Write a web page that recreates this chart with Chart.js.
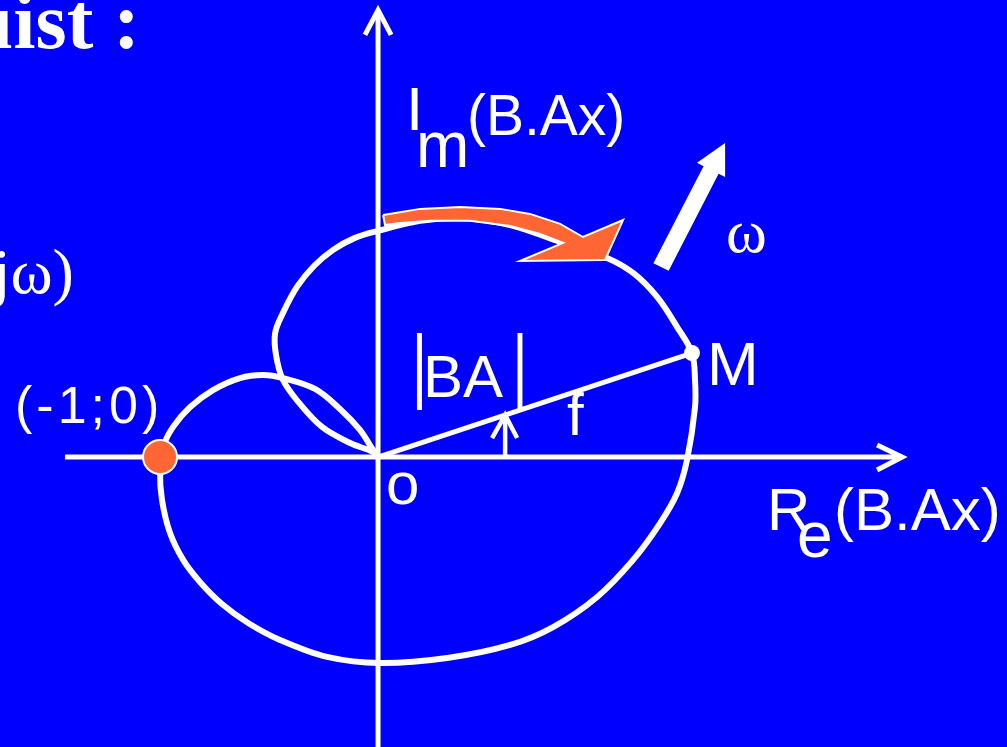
<!DOCTYPE html>
<html>
<head>
<meta charset="utf-8">
<script src="https://cdn.jsdelivr.net/npm/chart.js@4.4.0/dist/chart.umd.min.js"></script>
<style>
html, body { margin: 0; padding: 0; background: #0000ff; overflow: hidden; }
#wrap { width: 1007px; height: 747px; }
</style>
</head>
<body>
<div id="wrap"><canvas id="nyquist" width="1007" height="747"></canvas></div>
<script>
'use strict';

// Nyquist locus of B.A(jw) (unit: the critical point sits at Re = -1)
const locusRe = [0, -0.023, -0.128, -0.257, -0.362, -0.436, -0.468, -0.472, -0.436, -0.372,
    -0.294, -0.206, -0.106, 0, 0.193, 0.376, 0.606, 0.835, 1.050, 1.170,
    1.280, 1.372, 1.440, 1.454, 1.454, 1.417, 1.372, 1.294, 1.170, 1.005,
    0.803, 0.606, 0.317, 0.009, -0.234, -0.450, -0.596, -0.716, -0.817, -0.894,
    -0.954, -0.991, -1.000, -0.986, -0.940, -0.862, -0.757, -0.633, -0.528, -0.436,
    -0.289, -0.170, -0.083, -0.023, 0];
const locusIm = [0, 0.023, 0.064, 0.138, 0.248, 0.353, 0.468, 0.569, 0.661, 0.780,
    0.876, 0.950, 1.005, 1.037, 1.083, 1.096, 1.064, 0.986, 0.913, 0.844,
    0.734, 0.596, 0.477, 0.353, 0.229, -0.014, -0.165, -0.303, -0.472, -0.642,
    -0.780, -0.862, -0.922, -0.945, -0.917, -0.839, -0.761, -0.674, -0.573, -0.472,
    -0.349, -0.197, -0.060, 0.046, 0.138, 0.229, 0.307, 0.362, 0.376, 0.362,
    0.312, 0.216, 0.124, 0.032, 0];

// visible extent of the plane
const reRange = [-1.734, 2.885];
const imRange = [-1.330, 2.096];

// axes and their arrow heads
const reAxisRe = [-1.436, 2.404];
const reAxisIm = [0, 0];
const reHeadRe = [2.289, 2.404, 2.289];
const reHeadIm = [0.055, 0, -0.060];
const imAxisRe = [0, 0];
const imAxisIm = [-1.40, 2.050];
const imHeadRe = [-0.060, 0, 0.060];
const imHeadIm = [1.936, 2.050, 1.936];

// point M on the locus, vector |BA| from O, critical point
const pointM = [1.440, 0.477];
const vectorRe = [0, 1.440];
const vectorIm = [0, 0.477];
const criticalPoint = [-1, 0];

// small arrow pointing at the phase angle
const phiStemRe = [0.583, 0.583];
const phiStemIm = [0, 0.193];
const phiHeadRe = [0.523, 0.583, 0.638];
const phiHeadIm = [0.087, 0.193, 0.087];

// bars of |BA|
const barLeftRe = [0.190, 0.190];
const barRightRe = [0.651, 0.651];
const barIm = [0.569, 0.216];

// orange arrow following the locus
const sweepRe = [0.023, 0.193, 0.376, 0.560, 0.697, 0.835, 0.940, 1.124, 1.041, 0.651,
    0.849, 0.743, 0.606, 0.422, 0.239, 0.101, 0.032, 0.023];
const sweepIm = [1.110, 1.138, 1.147, 1.138, 1.115, 1.069, 1.009, 1.087, 0.904, 0.899,
    0.982, 1.023, 1.060, 1.083, 1.083, 1.073, 1.064, 1.110];

// white arrow for increasing omega
const omegaRe = [1.263, 1.493, 1.463, 1.592, 1.592, 1.562, 1.333, 1.263];
const omegaIm = [0.889, 1.334, 1.349, 1.440, 1.284, 1.299, 0.854, 0.889];

const WHITE = '#ffffff';
const ORANGE = '#ff6633';
const BLUE = '#0000ff';

const SANS = '"Liberation Sans", Arial, sans-serif';
const SERIF = '"Liberation Serif", "Times New Roman", serif';

// text on the slide, anchored in plane units
const labels = [
    {text: 'uist :', re: -1.092, im: 1.876, font: 'bold 80px ' + SERIF, align: 'right'},
    {text: 'j\u03c9)', re: -1.395, im: 0.752, font: '64px ' + SERIF, align: 'right'},
    {text: '(-1;0)', re: -1.665, im: 0.156, font: '52px ' + SANS, spacing: '4px'},
    {text: 'I', re: 0.128, im: 1.500, font: '62px ' + SANS},
    {text: 'm', re: 0.174, im: 1.330, font: '64px ' + SANS},
    {text: '(B.Ax)', re: 0.408, im: 1.477, font: '57px ' + SANS},
    {text: '\u03c9', re: 1.596, im: 0.940, font: '62px ' + SERIF},
    {text: 'BA', re: 0.206, im: 0.275, font: '60px ' + SANS},
    {text: 'M', re: 1.509, im: 0.330, font: '62px ' + SANS},
    {text: 'f', re: 0.867, im: 0.101, font: '60px ' + SANS},
    {text: 'o', re: 0.037, im: -0.216, font: '60px ' + SANS},
    {text: 'R', re: 1.784, im: -0.335, font: '60px ' + SANS},
    {text: 'e', re: 1.922, im: -0.459, font: '64px ' + SANS},
    {text: '(B.Ax)', re: 2.092, im: -0.335, font: '60px ' + SANS}
];

function pts(re, im) {
    return re.map((v, i) => ({x: v, y: im[i]}));
}

function stroke(re, im, width, order, extra) {
    return Object.assign({
        data: pts(re, im),
        showLine: true,
        borderColor: WHITE,
        borderWidth: width,
        pointRadius: 0,
        tension: 0,
        fill: false,
        order: order
    }, extra || {});
}

const backdrop = {
    id: 'backdrop',
    beforeDraw(chart) {
        const ctx = chart.ctx;
        ctx.save();
        ctx.fillStyle = BLUE;
        ctx.fillRect(0, 0, chart.width, chart.height);
        ctx.restore();
    }
};

const slideText = {
    id: 'slideText',
    afterDatasetsDraw(chart) {
        const ctx = chart.ctx;
        const xs = chart.scales.x;
        const ys = chart.scales.y;
        ctx.save();
        ctx.fillStyle = WHITE;
        ctx.textBaseline = 'alphabetic';
        labels.forEach(l => {
            ctx.font = l.font;
            ctx.textAlign = l.align || 'left';
            ctx.letterSpacing = l.spacing || '0px';
            ctx.fillText(l.text, xs.getPixelForValue(l.re), ys.getPixelForValue(l.im));
        });
        ctx.restore();
    }
};

new Chart(document.getElementById('nyquist'), {
    type: 'scatter',
    data: {
        datasets: [
            stroke(reAxisRe, reAxisIm, 5, 9),
            stroke(reHeadRe, reHeadIm, 5, 9),
            stroke(imAxisRe, imAxisIm, 5, 9),
            stroke(imHeadRe, imHeadIm, 5, 9),
            stroke(locusRe, locusIm, 6, 8, {tension: 0.35}),
            stroke(vectorRe, vectorIm, 5, 7),
            stroke(phiStemRe, phiStemIm, 4.5, 7),
            stroke(phiHeadRe, phiHeadIm, 4.5, 7),
            stroke(barLeftRe, barIm, 5, 7),
            stroke(barRightRe, barIm, 5, 7),
            stroke(sweepRe, sweepIm, 2, 3, {fill: 'shape', backgroundColor: ORANGE}),
            stroke(omegaRe, omegaIm, 0, 3, {fill: 'shape', backgroundColor: WHITE}),
            {
                data: [{x: pointM[0], y: pointM[1]}],
                pointRadius: 8,
                pointBackgroundColor: WHITE,
                pointBorderWidth: 0,
                order: 2
            },
            {
                data: [{x: criticalPoint[0], y: criticalPoint[1]}],
                pointRadius: 17,
                pointBackgroundColor: ORANGE,
                pointBorderColor: WHITE,
                pointBorderWidth: 2,
                order: 1
            }
        ]
    },
    options: {
        responsive: false,
        animation: false,
        events: [],
        layout: {autoPadding: false, padding: 0},
        plugins: {
            legend: {display: false},
            tooltip: {enabled: false},
            title: {display: false}
        },
        scales: {
            x: {type: 'linear', min: reRange[0], max: reRange[1], display: false},
            y: {type: 'linear', min: imRange[0], max: imRange[1], display: false}
        }
    },
    plugins: [backdrop, slideText]
});
</script>
</body>
</html>
